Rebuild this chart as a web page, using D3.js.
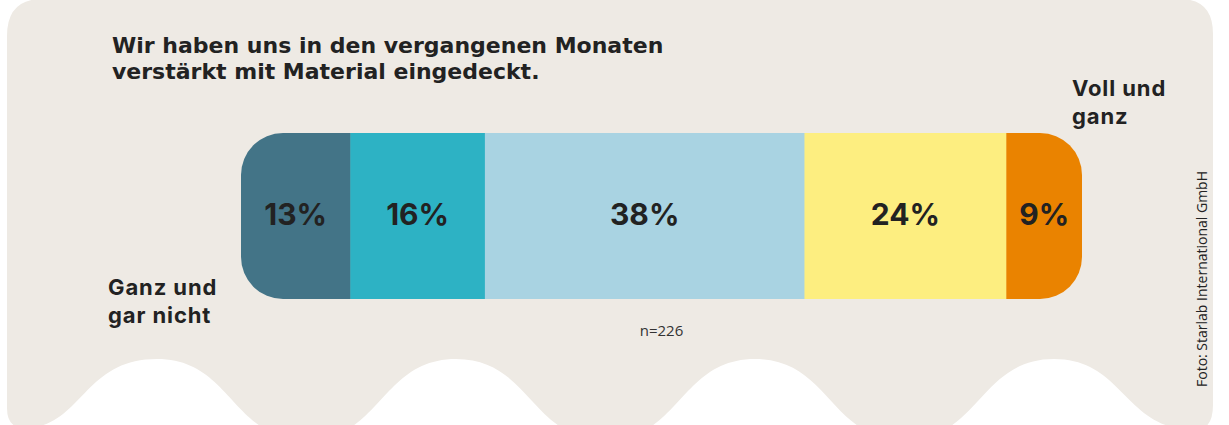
<!DOCTYPE html>
<html>
<head>
<meta charset="utf-8">
<script src="https://cdn.jsdelivr.net/npm/d3@7"></script>
<style>
  body { margin: 0; background: #fff; }
  svg { display: block; }
</style>
</head>
<body>
<script>
// Data
const answers = ['Ganz und gar nicht', 'eher nicht', 'teils/teils', 'eher', 'Voll und ganz'];
const shares = [13, 16, 38, 24, 9];
const colors = ['#437487', '#2db2c4', '#a9d3e2', '#fdee80', '#ea8300'];
const titleLines = ['Wir haben uns in den vergangenen Monaten', 'verstärkt mit Material eingedeckt.'];
const lowLabel = ['Ganz und', 'gar nicht'];
const highLabel = ['Voll und', 'ganz'];
const sampleNote = 'n=226';
const credit = 'Foto: Starlab International GmbH';

const width = 1229;
const height = 425;
const bar = { left: 241, right: 1082, top: 133, bottom: 299, radius: 42 };

const svg = d3.select('body').append('svg')
    .attr('width', width)
    .attr('height', height);

// beige card with wavy bottom edge
const peaks = [157, 456, 755, 1054];
const half = 149.5;
const p = d3.path();
p.moveTo(7, 36);
p.quadraticCurveTo(7, -1, 42, -1);
p.lineTo(1180, -1);
p.quadraticCurveTo(1213, -1, 1213, 34);
p.lineTo(1213, 405);
p.quadraticCurveTo(1213, 430, 1195, 430);
peaks.slice().reverse().forEach((c, i) => {
    if (i === 0) {
        p.bezierCurveTo(c + 70, 430, c + 70, 359, c, 359);
    } else {
        p.bezierCurveTo(c + half / 2, 440, c + half / 2, 359, c, 359);
    }
    const next = i < peaks.length - 1 ? c - half : 24;
    const ny = i < peaks.length - 1 ? 440 : 428;
    p.bezierCurveTo(c - half / 2, 359, c - half / 2, ny, next, ny);
});
p.quadraticCurveTo(7, 428, 7, 408);
p.closePath();

svg.append('path')
    .attr('d', p.toString())
    .attr('fill', '#eeeae4');

// title
svg.append('text')
    .attr('x', 112)
    .attr('y', 53)
    .attr('font-family', '"DejaVu Sans", sans-serif')
    .attr('font-weight', 700)
    .attr('font-size', 22)
    .attr('fill', '#222')
    .selectAll('tspan')
    .data(titleLines)
    .enter()
    .append('tspan')
    .attr('x', 112)
    .attr('dy', (d, i) => i === 0 ? 0 : 26)
    .text(d => d);

// scales
const x = d3.scaleLinear()
    .domain([0, d3.sum(shares)])
    .range([bar.left, bar.right]);

const y = d3.scaleBand()
    .domain(['row'])
    .range([bar.top, bar.bottom]);

const stacked = [];
let acc = 0;
shares.forEach((v, i) => {
    stacked.push({ answer: answers[i], value: v, x0: acc, x1: acc + v, color: colors[i] });
    acc += v;
});

svg.append('clipPath')
    .attr('id', 'bar-clip')
    .append('rect')
    .attr('x', x(0))
    .attr('y', y('row'))
    .attr('width', x(d3.sum(shares)) - x(0))
    .attr('height', y.bandwidth())
    .attr('rx', bar.radius)
    .attr('ry', bar.radius);

const segs = svg.append('g')
    .attr('clip-path', 'url(#bar-clip)');

segs.selectAll('rect')
    .data(stacked)
    .enter()
    .append('rect')
    .attr('x', d => x(d.x0))
    .attr('y', y('row'))
    .attr('width', d => x(d.x1) - x(d.x0) + 0.5)
    .attr('height', y.bandwidth())
    .attr('fill', d => d.color);

svg.append('g')
    .selectAll('text')
    .data(stacked)
    .enter()
    .append('text')
    .attr('x', d => x((d.x0 + d.x1) / 2))
    .attr('y', y('row') + y.bandwidth() / 2 + 9)
    .attr('text-anchor', 'middle')
    .attr('font-family', 'Inter, sans-serif')
    .attr('font-weight', 700)
    .attr('font-size', 30)
    .attr('fill', '#222')
    .text(d => d.value + '%');

// end labels
function twoLines(lines, x0, y0) {
    svg.append('text')
        .attr('x', x0)
        .attr('y', y0)
        .attr('font-family', 'Inter, sans-serif')
        .attr('font-weight', 700)
        .attr('font-size', 22)
        .attr('letter-spacing', 0.9)
        .attr('fill', '#222')
        .selectAll('tspan')
        .data(lines)
        .enter()
        .append('tspan')
        .attr('x', x0)
        .attr('dy', (d, i) => i === 0 ? 0 : 28)
        .text(d => d);
}
twoLines(lowLabel, 108, 295);
twoLines(highLabel, 1072, 96);

svg.append('text')
    .attr('x', (bar.left + bar.right) / 2)
    .attr('y', 336)
    .attr('text-anchor', 'middle')
    .attr('font-family', '"Open Sans", sans-serif')
    .attr('font-size', 15)
    .attr('fill', '#333')
    .text(sampleNote);

svg.append('text')
    .attr('transform', 'translate(1207, 387) rotate(-90)')
    .attr('font-family', '"Open Sans", sans-serif')
    .attr('font-size', 14)
    .attr('fill', '#222')
    .text(credit);
</script>
</body>
</html>
